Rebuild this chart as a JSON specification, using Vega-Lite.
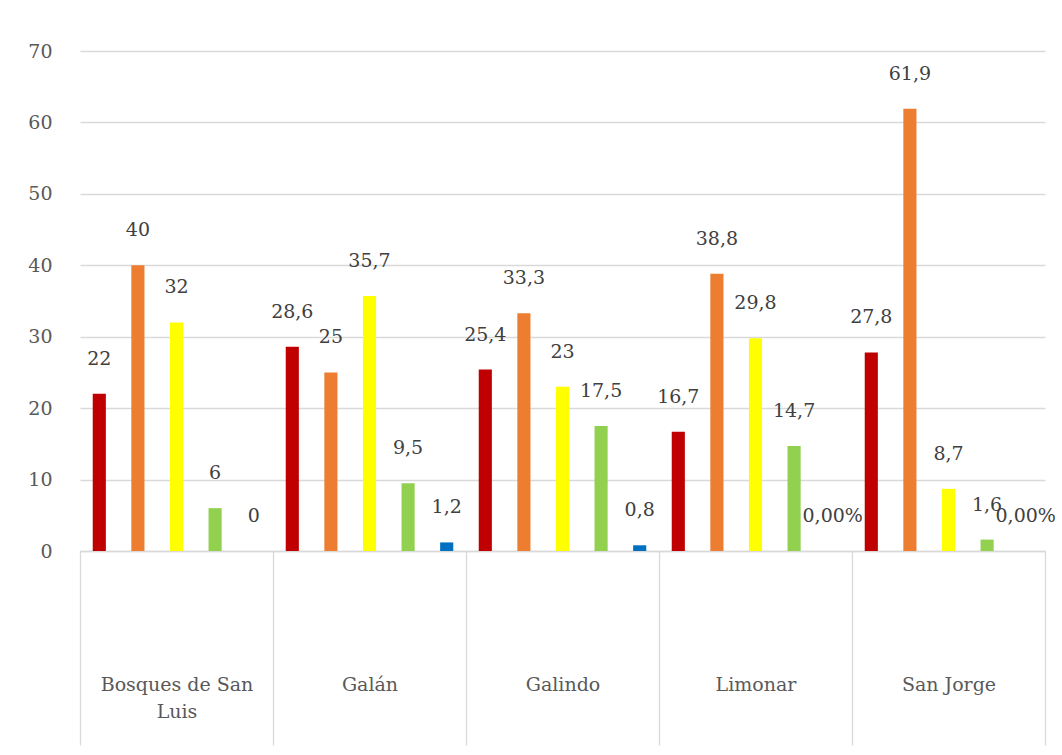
{
  "$schema": "https://vega.github.io/schema/vega-lite/v6.json",
  "width": 965,
  "height": 500,
  "autosize": {"type": "none"},
  "padding": {"left": 80, "top": 51, "right": 17, "bottom": 204},
  "background": "white",
  "config": {
    "view": {"stroke": null},
    "font": "DejaVu Serif"
  },
  "data": {
    "values": [
      {"barrio": "Bosques de San Luis", "serie": "S1", "valor": 22, "etiqueta": "22"},
      {"barrio": "Bosques de San Luis", "serie": "S2", "valor": 40, "etiqueta": "40"},
      {"barrio": "Bosques de San Luis", "serie": "S3", "valor": 32, "etiqueta": "32"},
      {"barrio": "Bosques de San Luis", "serie": "S4", "valor": 6, "etiqueta": "6"},
      {"barrio": "Bosques de San Luis", "serie": "S5", "valor": 0, "etiqueta": "0"},
      {"barrio": "Galán", "serie": "S1", "valor": 28.6, "etiqueta": "28,6"},
      {"barrio": "Galán", "serie": "S2", "valor": 25, "etiqueta": "25"},
      {"barrio": "Galán", "serie": "S3", "valor": 35.7, "etiqueta": "35,7"},
      {"barrio": "Galán", "serie": "S4", "valor": 9.5, "etiqueta": "9,5"},
      {"barrio": "Galán", "serie": "S5", "valor": 1.2, "etiqueta": "1,2"},
      {"barrio": "Galindo", "serie": "S1", "valor": 25.4, "etiqueta": "25,4"},
      {"barrio": "Galindo", "serie": "S2", "valor": 33.3, "etiqueta": "33,3"},
      {"barrio": "Galindo", "serie": "S3", "valor": 23, "etiqueta": "23"},
      {"barrio": "Galindo", "serie": "S4", "valor": 17.5, "etiqueta": "17,5"},
      {"barrio": "Galindo", "serie": "S5", "valor": 0.8, "etiqueta": "0,8"},
      {"barrio": "Limonar", "serie": "S1", "valor": 16.7, "etiqueta": "16,7"},
      {"barrio": "Limonar", "serie": "S2", "valor": 38.8, "etiqueta": "38,8"},
      {"barrio": "Limonar", "serie": "S3", "valor": 29.8, "etiqueta": "29,8"},
      {"barrio": "Limonar", "serie": "S4", "valor": 14.7, "etiqueta": "14,7"},
      {"barrio": "Limonar", "serie": "S5", "valor": 0, "etiqueta": "0,00%"},
      {"barrio": "San Jorge", "serie": "S1", "valor": 27.8, "etiqueta": "27,8"},
      {"barrio": "San Jorge", "serie": "S2", "valor": 61.9, "etiqueta": "61,9"},
      {"barrio": "San Jorge", "serie": "S3", "valor": 8.7, "etiqueta": "8,7"},
      {"barrio": "San Jorge", "serie": "S4", "valor": 1.6, "etiqueta": "1,6"},
      {"barrio": "San Jorge", "serie": "S5", "valor": 0, "etiqueta": "0,00%"}
    ]
  },
  "encoding": {
    "x": {
      "field": "barrio",
      "type": "nominal",
      "sort": null,
      "scale": {"paddingInner": 0, "paddingOuter": 0},
      "axis": {
        "title": null,
        "labelAngle": 0,
        "domainColor": "#D9D9D9",
        "domainWidth": 1.3,
        "ticks": true,
        "tickBand": "extent",
        "tickSize": 194,
        "tickColor": "#D9D9D9",
        "tickWidth": 1.3,
        "labelPadding": -70,
        "labelBaseline": "top",
        "labelFont": "DejaVu Serif",
        "labelFontSize": 19,
        "labelColor": "#595959",
        "labelLineHeight": 27,
        "labelExpr": "datum.label == 'Bosques de San Luis' ? ['Bosques de San', 'Luis'] : datum.label"
      }
    },
    "xOffset": {
      "field": "serie",
      "type": "nominal",
      "scale": {"paddingInner": 0.66, "paddingOuter": 0.33}
    },
    "y": {
      "field": "valor",
      "type": "quantitative",
      "scale": {"domain": [0, 70], "nice": false},
      "axis": {
        "title": null,
        "values": [0, 10, 20, 30, 40, 50, 60, 70],
        "domain": false,
        "ticks": false,
        "labelPadding": 28,
        "labelFont": "DejaVu Serif",
        "labelFontSize": 19,
        "labelColor": "#595959",
        "gridColor": "#D9D9D9",
        "gridWidth": 1.3
      }
    }
  },
  "layer": [
    {
      "mark": {"type": "bar"},
      "encoding": {
        "color": {
          "field": "serie",
          "type": "nominal",
          "legend": null,
          "scale": {
            "domain": ["S1", "S2", "S3", "S4", "S5"],
            "range": ["#C00000", "#ED7D31", "#FFFF00", "#92D050", "#0070C0"]
          }
        }
      }
    },
    {
      "mark": {
        "type": "text",
        "dy": -35,
        "baseline": "middle",
        "align": "center",
        "font": "DejaVu Serif",
        "fontSize": 19,
        "color": "#404040"
      },
      "encoding": {
        "text": {"field": "etiqueta", "type": "nominal"}
      }
    }
  ]
}
